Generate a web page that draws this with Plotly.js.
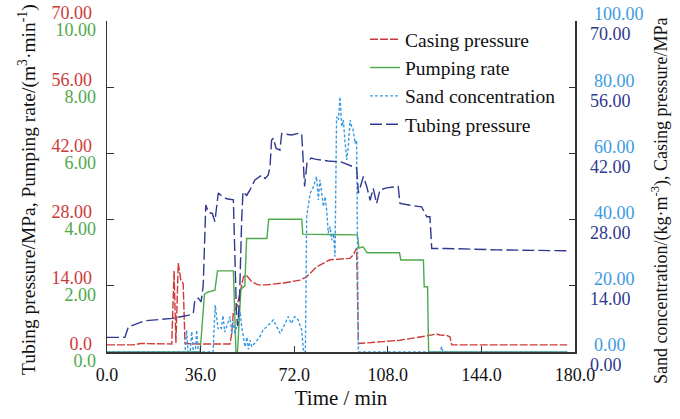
<!DOCTYPE html>
<html>
<head>
<meta charset="utf-8">
<script src="https://cdn.plot.ly/plotly-3.0.1.min.js"></script>
<style>html,body{margin:0;padding:0;background:#fff;}#chart{width:680px;height:419px;}</style>
</head>
<body>
<div id="chart"></div>
<script>
// ---- Data (time in min) ----
const casingT = [0,10,13,24.9,25.8,26.5,27.4,28.4,29.3,30,35,47.3,48,48.6,50,51.3,52.5,53.5,55.6,58.1,61.4,68,74.2,76.8,80.6,85.8,90,93.4,94.7,96,96.7,100,106.3,112.7,119.1,123,126.8,128,130.6,131.9,132.6,150,177];
const casingP = [1.5,1.5,1.8,1.7,17.2,1.9,18.8,15.2,14.5,1.8,1.7,1.7,4.0,8.5,9.6,13.1,15.9,16.3,14.9,14.2,14.2,14.6,15.2,15.9,18.0,19.5,19.6,19.8,20.5,21.9,1.8,1.9,2.2,2.5,3.0,3.4,3.8,3.6,3.5,3.2,1.5,1.5,1.5];

const pumpT = [0,35.8,37.5,38.5,41.5,42.5,48.6,49.6,50.2,51.5,53,53.7,61.5,62.2,74.9,75.3,85,96.3,96.9,98.5,100,112.5,113,121.7,122,123.3,123.7,177];
const pumpQ = [0,0,1.75,1.8,1.87,2.45,2.45,0,0,1.9,2.0,3.43,3.43,4.01,4.01,3.56,3.55,3.54,3.14,3.18,3.0,3.0,2.78,2.78,1.97,1.97,0,0];

const sandT = [0,30,30.6,31.2,32,32.6,33.2,34,34.5,35.1,40.8,41.6,42.7,43.3,44,44.6,45.3,46,46.6,47.3,48,48.6,49.3,50,51.2,51.8,52.5,53.1,53.8,54.4,55,55.7,58.8,60,61.4,62.7,64,65.3,66.6,67.9,69.7,70.9,72.2,73.5,74.9,75.6,76.3,76.8,78.1,79.4,80.6,81.3,81.9,82.6,83.2,83.9,84.5,85.1,85.8,86.4,87.1,87.7,88.3,89,89.6,90.3,90.9,91.5,92.2,92.8,93.5,94.1,94.7,95.4,96,96.7,110,128.2,128.7,129.2,177];
const sandS = [0,0,6.6,0,0,6.2,0,0,6.6,0,0,14.2,7.0,7.6,7.2,11.0,6.0,8.0,9.0,10.7,5.6,9.2,5.2,8.4,12.2,7.6,3.6,1.5,4.5,0.8,3.6,1.6,4.6,6.6,7.6,8.6,9.7,7.6,5.6,7.6,10.7,8.6,10.7,9.7,6.6,0,0,40.9,47.9,49.9,53.0,45.9,52.0,47.9,43.9,46.9,42.9,35.9,37.9,33.8,35.9,28.8,71.1,70.1,77.1,68.1,70.1,64.0,58.0,62.0,70.1,68.1,67.1,63.0,64.0,0,0,0,1.6,0,0];

const tubingT = [0,6.9,8.2,14.6,25,31.5,33.2,33.8,35.1,36.2,37,38,39,40.5,41.5,42.8,44,46,48.6,49.3,49.8,50.3,51,51.8,52.3,53.7,55,56.9,59.5,60.8,62,62.7,63.3,64,65,66.5,67.2,71,74.2,74.9,76,76.9,78.5,80,85,90,93,96,96.7,98.6,99.9,101.2,102.4,103.7,105,107.6,112,112.7,117,121,123,124.2,124.9,130,150,177];
const tubingP = [3.1,3.1,5.3,6.6,7.1,7.8,8.2,11.0,11.4,10.6,14,31.1,29.5,29.3,27.6,33.6,33.1,32.4,32.2,20,8,5.5,12,28,33.9,33.1,34.3,36.4,37.4,36.7,37.4,39.2,44.8,45.2,43.1,42.7,46.2,45.9,46.3,46.0,35.0,39.9,41.0,40.8,40.4,40.2,39.6,38.9,33.6,37.1,35.0,32.1,34.6,31.4,34.3,34.7,35.0,31.4,31.0,30.7,28.6,28.6,21.9,21.9,21.6,21.4];

const xTicks = [0,36,72,108,144,180];
const xTickText = ["0.0","36.0","72.0","108.0","144.0","180.0"];
const pTicks = [0,14,28,42,56,70];
const pTickTextL = ["0.0","14.00","28.00","42.00","56.00","70.00"];
const qTicks = [0,2,4,6,8,10];
const qTickText = ["0.0","2.00","4.00","6.00","8.00","10.00"];
const sTicks = [0,20,40,60,80,100];
const sTickText = ["0.00","20.00","40.00","60.00","80.00","100.00"];
const pTickTextR = ["0.00","14.00","28.00","42.00","56.00","70.00"];

const RED = '#cc3a3a', GREEN = '#4fa84b', LBLUE = '#3c9be0', NAVY = '#2f3a8f';
const FONT = 'Liberation Serif, Times New Roman, serif';

const traces = [
  {x: casingT, y: casingP, name: 'Casing pressure', type: 'scatter', mode: 'lines',
   line: {color: RED, width: 1.4, dash: '8px,2px'}, yaxis: 'y'},
  {x: pumpT, y: pumpQ, name: 'Pumping rate', type: 'scatter', mode: 'lines',
   line: {color: GREEN, width: 1.4}, yaxis: 'y2'},
  {x: sandT, y: sandS, name: 'Sand concentration', type: 'scatter', mode: 'lines',
   line: {color: LBLUE, width: 1.4, dash: '3px,2px'}, yaxis: 'y3'},
  {x: tubingT, y: tubingP, name: 'Tubing pressure', type: 'scatter', mode: 'lines',
   line: {color: NAVY, width: 1.4, dash: '12px,4px'}, yaxis: 'y4'}
];

const baseY = {showgrid: false, zeroline: false, fixedrange: true};
const layout = {
  width: 680, height: 419,
  margin: {l: 107, r: 105, t: 21, b: 67},
  paper_bgcolor: '#fff', plot_bgcolor: '#fff',
  font: {family: FONT, size: 18, color: '#111'},
  showlegend: true,
  legend: {x: (365-107)/468, xanchor: 'left', y: (352-20)/331, yanchor: 'top',
           bgcolor: 'rgba(0,0,0,0)', borderwidth: 0,
           font: {family: FONT, size: 19.5, color: '#111'}},
  xaxis: {range: [0,180], tickvals: xTicks, ticktext: xTickText, ticks: 'inside', ticklen: 6,
          showline: true, linecolor: '#333', linewidth: 1.5, tickcolor: '#333', showgrid: false, zeroline: false,
          tickfont: {family: FONT, size: 18, color: '#111'}, ticklabelstandoff: 6,
          title: {text: 'Time / min', font: {family: FONT, size: 21, color: '#111'}, standoff: 6}},
  yaxis: Object.assign({}, baseY, {range: [0,70], tickvals: pTicks, ticktext: pTickTextL, side: 'left',
          ticks: 'inside', ticklen: 7, tickcolor: '#333', showline: true, linecolor: '#333', linewidth: 1.5,
          tickfont: {family: FONT, size: 18, color: RED}, ticklabelshift: -8, ticklabelstandoff: 10}),
  yaxis2: Object.assign({}, baseY, {range: [0,10], tickvals: qTicks, ticktext: qTickText, side: 'left',
          overlaying: 'y', ticks: '', showline: false,
          tickfont: {family: FONT, size: 18, color: GREEN}, ticklabelshift: 9, ticklabelstandoff: 10}),
  yaxis3: Object.assign({}, baseY, {range: [0,100], tickvals: sTicks, ticktext: sTickText, side: 'right',
          overlaying: 'y', ticks: 'inside', ticklen: 6, tickcolor: '#333', showline: true, linecolor: '#333', linewidth: 1.5,
          tickfont: {family: FONT, size: 18, color: LBLUE}, ticklabelshift: -7, ticklabelstandoff: 14}),
  yaxis4: Object.assign({}, baseY, {range: [0,70], tickvals: pTicks, ticktext: pTickTextR, side: 'right',
          overlaying: 'y', ticks: '', showline: false,
          tickfont: {family: FONT, size: 18, color: NAVY}, ticklabelshift: 13, ticklabelstandoff: 14}),
  annotations: [
    {text: 'Tubing pressure/MPa, Pumping rate/(m<sup>3</sup>·min<sup>-1</sup>)', xref: 'paper', yref: 'paper',
     x: (27-107)/468, y: (352-190)/331, textangle: -90, showarrow: false, xanchor: 'center', yanchor: 'middle',
     font: {family: FONT, size: 19.5, color: '#111'}},
    {text: 'Sand concentration/(kg·m<sup>-3</sup>), Casing pressure/MPa', xref: 'paper', yref: 'paper',
     x: (660-107)/468, y: (352-201)/331, textangle: -90, showarrow: false, xanchor: 'center', yanchor: 'middle',
     font: {family: FONT, size: 18, color: '#111'}}
  ]
};

Plotly.newPlot('chart', traces, layout, {displayModeBar: false, staticPlot: true});
</script>
</body>
</html>
